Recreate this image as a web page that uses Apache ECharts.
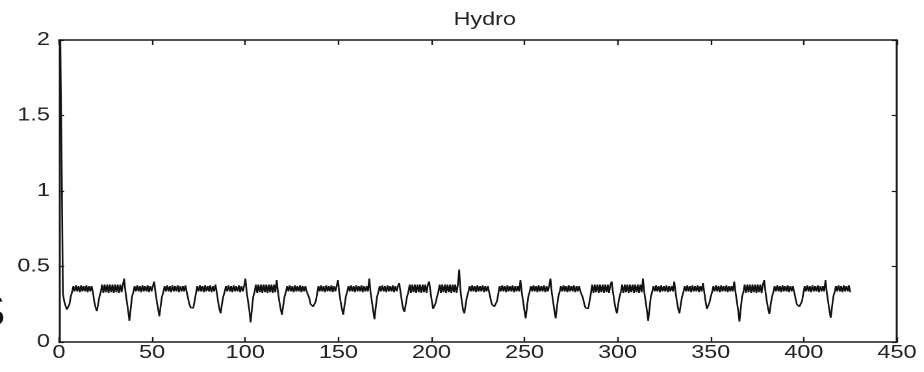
<!DOCTYPE html>
<html>
<head>
<meta charset="utf-8">
<script src="https://cdn.jsdelivr.net/npm/echarts@6.0.0/dist/echarts.min.js"></script>
<style>
  html, body { margin: 0; padding: 0; background: #fff; overflow: hidden; }
  #wrap { width: 924px; height: 372px; overflow: hidden; position: relative; }
  #chart { width: 711px; height: 372px; transform: scaleX(1.29958); transform-origin: 0 0; }
</style>
</head>
<body>
<div id="wrap"><div id="chart"></div></div>
<script>
// ---- data ----
const chartTitle = 'Hydro';
const sampleStart = 0.7;   // x of first reading
const sampleStep = 0.7;    // spacing between readings on the x axis
const xTicks = [0, 50, 100, 150, 200, 250, 300, 350, 400, 450];
const yTicks = [0, 0.5, 1, 1.5, 2];
const hydroLevel = [
  2.0,1.2,0.32,0.27,0.24,0.215,
  0.205,0.25,0.30,0.33,0.37,0.335,0.375,0.335,0.37,0.33,0.375,0.335,0.37,0.335,0.375,0.33,0.37,0.335,0.37,0.33,0.27,0.23,
  0.205,0.25,0.30,0.33,0.38,0.325,0.38,0.33,0.38,0.325,0.38,0.33,0.38,0.325,0.38,0.33,0.38,0.325,0.38,0.33,0.38,0.42,0.33,0.27,0.21,
  0.14,0.22,0.30,0.33,0.37,0.335,0.375,0.335,0.37,0.33,0.375,0.335,0.37,0.335,0.375,0.33,0.37,0.335,0.37,0.40,0.33,0.27,0.22,
  0.17,0.24,0.30,0.33,0.37,0.335,0.375,0.335,0.37,0.33,0.375,0.335,0.37,0.335,0.375,0.33,0.37,0.335,0.37,0.335,0.375,0.33,0.29,0.25,0.228,
  0.225,0.225,0.27,0.32,0.37,0.335,0.375,0.335,0.37,0.33,0.375,0.335,0.37,0.335,0.375,0.33,0.37,0.335,0.38,0.33,0.27,0.22,
  0.19,0.25,0.30,0.33,0.37,0.335,0.375,0.335,0.37,0.33,0.375,0.335,0.37,0.335,0.375,0.33,0.37,0.335,0.37,0.42,0.33,0.27,0.21,
  0.13,0.22,0.30,0.33,0.38,0.325,0.38,0.33,0.38,0.325,0.38,0.33,0.38,0.325,0.38,0.33,0.38,0.325,0.38,0.33,0.41,0.33,0.27,0.22,
  0.18,0.24,0.30,0.33,0.37,0.335,0.375,0.335,0.37,0.33,0.375,0.335,0.37,0.335,0.375,0.33,0.37,0.335,0.37,0.335,0.33,0.29,0.25,0.238,
  0.235,0.235,0.27,0.32,0.37,0.335,0.375,0.335,0.37,0.33,0.375,0.335,0.37,0.335,0.375,0.33,0.37,0.335,0.37,0.41,0.33,0.27,0.22,
  0.18,0.24,0.30,0.33,0.37,0.335,0.375,0.335,0.37,0.33,0.375,0.335,0.37,0.335,0.375,0.33,0.37,0.335,0.37,0.335,0.42,0.33,0.27,0.21,
  0.15,0.23,0.30,0.33,0.37,0.335,0.375,0.335,0.37,0.33,0.375,0.335,0.37,0.335,0.375,0.33,0.37,0.335,0.37,0.39,0.33,0.27,0.22,
  0.20,0.25,0.30,0.33,0.38,0.325,0.38,0.33,0.38,0.325,0.38,0.33,0.38,0.325,0.38,0.33,0.38,0.325,0.38,0.40,0.33,0.27,0.22,
  0.21,0.26,0.30,0.33,0.38,0.325,0.38,0.33,0.38,0.325,0.38,0.33,0.38,0.325,0.38,0.33,0.38,0.325,0.38,0.48,0.34,0.27,0.21,
  0.19,0.25,0.30,0.33,0.37,0.335,0.375,0.335,0.37,0.33,0.375,0.335,0.37,0.335,0.375,0.33,0.37,0.335,0.37,0.33,0.29,0.25,0.238,
  0.235,0.235,0.27,0.32,0.37,0.335,0.375,0.335,0.37,0.33,0.375,0.335,0.37,0.335,0.375,0.33,0.37,0.335,0.37,0.335,0.41,0.33,0.27,0.21,
  0.157,0.23,0.30,0.33,0.37,0.335,0.375,0.335,0.37,0.33,0.375,0.335,0.37,0.335,0.375,0.33,0.37,0.335,0.37,0.42,0.33,0.27,0.21,
  0.157,0.23,0.30,0.33,0.37,0.335,0.375,0.335,0.37,0.33,0.375,0.335,0.37,0.335,0.375,0.33,0.37,0.335,0.37,0.335,0.33,0.29,0.25,0.225,
  0.22,0.222,0.27,0.32,0.38,0.325,0.38,0.33,0.38,0.325,0.38,0.33,0.38,0.325,0.38,0.33,0.38,0.325,0.38,0.40,0.33,0.27,0.22,
  0.19,0.25,0.30,0.33,0.38,0.325,0.38,0.33,0.38,0.325,0.38,0.33,0.38,0.325,0.38,0.33,0.38,0.325,0.38,0.33,0.42,0.33,0.27,0.21,
  0.14,0.22,0.30,0.33,0.37,0.335,0.375,0.335,0.37,0.33,0.375,0.335,0.37,0.335,0.375,0.33,0.37,0.335,0.37,0.335,0.40,0.33,0.27,0.22,
  0.19,0.25,0.30,0.33,0.37,0.335,0.375,0.335,0.37,0.33,0.375,0.335,0.37,0.335,0.375,0.33,0.37,0.335,0.39,0.33,0.27,0.22,
  0.21,0.26,0.30,0.33,0.37,0.335,0.375,0.335,0.37,0.33,0.375,0.335,0.37,0.335,0.375,0.33,0.37,0.335,0.37,0.335,0.40,0.33,0.27,0.21,
  0.135,0.22,0.30,0.33,0.38,0.325,0.38,0.33,0.38,0.325,0.38,0.33,0.38,0.325,0.38,0.33,0.38,0.325,0.38,0.41,0.33,0.27,0.22,
  0.185,0.25,0.30,0.33,0.37,0.335,0.375,0.335,0.37,0.33,0.375,0.335,0.37,0.335,0.375,0.33,0.37,0.335,0.37,0.33,0.29,0.25,0.238,
  0.235,0.235,0.27,0.32,0.37,0.335,0.375,0.335,0.37,0.33,0.375,0.335,0.37,0.335,0.375,0.33,0.37,0.335,0.37,0.335,0.41,0.33,0.27,0.21,
  0.16,0.23,0.30,0.33,0.37,0.335,0.375,0.335,0.37,0.33,0.375,0.335,0.37,0.335,0.375,0.33
];
const edgeGlyph = 'S';

// ---- chart ----
const FONT = '"Liberation Sans", Arial, Helvetica, sans-serif';
const seriesData = hydroLevel.map((v, i) => [sampleStart + i * sampleStep, v]);
const axisLineStyle = { color: '#1a1a1a', width: 1.5 };
const tickStyle = { color: '#1a1a1a', width: 1.2 };

function xAxisDef(pos, showLabel) {
  return {
    type: 'value', position: pos,
    min: xTicks[0], max: xTicks[xTicks.length - 1], interval: xTicks[1] - xTicks[0],
    axisLine: { show: true, onZero: false, lineStyle: axisLineStyle },
    axisTick: { show: true, inside: true, length: 5, lineStyle: tickStyle },
    axisLabel: { show: showLabel, margin: 2, fontSize: 18, color: '#222', fontFamily: FONT },
    splitLine: { show: false }
  };
}
function yAxisDef(pos, showLabel) {
  return {
    type: 'value', position: pos,
    min: yTicks[0], max: yTicks[yTicks.length - 1], interval: yTicks[1] - yTicks[0],
    axisLine: { show: true, onZero: false, lineStyle: axisLineStyle },
    axisTick: { show: true, inside: true, length: 4, lineStyle: tickStyle },
    axisLabel: { show: showLabel, margin: 7, fontSize: 18, color: '#222', fontFamily: FONT },
    splitLine: { show: false }
  };
}

const chart = echarts.init(document.getElementById('chart'), null, { renderer: 'canvas', devicePixelRatio: 2 });
chart.setOption({
  animation: false,
  backgroundColor: '#fff',
  title: {
    text: chartTitle, left: 344, top: 6,
    textStyle: { fontSize: 18, fontWeight: 'normal', color: '#222', fontFamily: FONT }
  },
  grid: { left: 45.4, right: 20.8, top: 40, bottom: 30 },
  xAxis: [xAxisDef('bottom', true), xAxisDef('top', false)],
  yAxis: [yAxisDef('left', true), yAxisDef('right', false)],
  series: [{
    type: 'line', data: seriesData, xAxisIndex: 0, yAxisIndex: 0,
    showSymbol: false, smooth: false,
    lineStyle: { color: '#111', width: 1.3 }
  }],
  graphic: [{
    type: 'text', x: -26, y: 291,
    style: { text: edgeGlyph, fontSize: 46, fontFamily: FONT, fill: '#111', textVerticalAlign: 'top' }
  }]
});
</script>
</body>
</html>
